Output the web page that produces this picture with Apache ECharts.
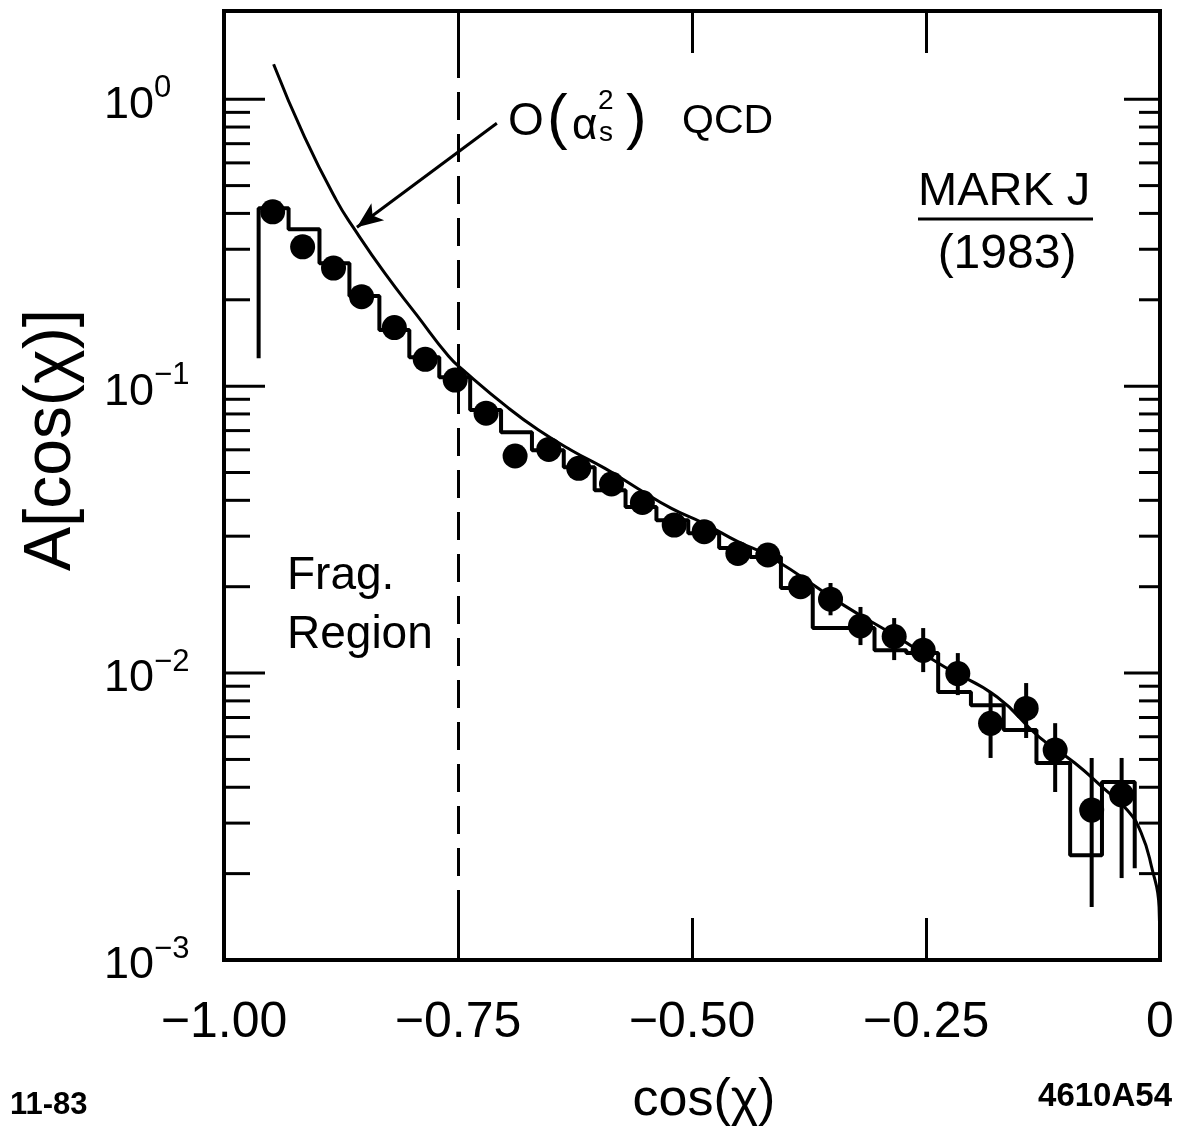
<!DOCTYPE html>
<html>
<head>
<meta charset="UTF-8">
<title>A[cos(χ)] - MARK J (1983)</title>
<script src="https://cdn.jsdelivr.net/npm/echarts@6/dist/echarts.min.js"></script>
<style>
  html, body { margin: 0; padding: 0; background: #fff; }
  #main { width: 1182px; height: 1127px; }
</style>
</head>
<body>
<div id="main"></div>
<script type="text/javascript">
var FONT = '"Liberation Sans", Arial, sans-serif';

// data points (cos chi, A)
var pointX = [-0.948, -0.916, -0.883, -0.853, -0.818, -0.785, -0.753, -0.720, -0.689, -0.653,
              -0.621, -0.586, -0.553, -0.519, -0.487, -0.451, -0.419, -0.384, -0.352, -0.320,
              -0.284, -0.253, -0.216, -0.181, -0.143, -0.112, -0.073, -0.041];
var pointY = [0.405, 0.306, 0.258, 0.205, 0.160, 0.124, 0.105, 0.0805, 0.0571, 0.0602,
              0.0517, 0.0456, 0.0393, 0.0328, 0.0311, 0.0261, 0.0258, 0.0200, 0.0181, 0.0146,
              0.0134, 0.0120, 0.00996, 0.00668, 0.00753, 0.00539, 0.00333, 0.00376];
// error bars (null = hidden behind the dot)
var errLow  = [null, null, null, null, null, null, null, null, null, null,
               null, null, null, null, null, null, null, null, 0.0159, 0.01252,
               0.0111, 0.01008, 0.00838, 0.00506, 0.00594, 0.00385, 0.00153, 0.00193];
var errHigh = [null, null, null, null, null, null, null, null, null, null,
               null, null, null, null, null, null, null, null, 0.0206, 0.0170,
               0.01555, 0.01435, 0.01174, 0.00852, 0.00923, 0.00669, 0.00506, 0.00506];

// Monte Carlo histogram
var mcEdges = [-0.963, -0.931, -0.898, -0.866, -0.834, -0.802, -0.770, -0.737, -0.704, -0.671,
               -0.637, -0.604, -0.571, -0.538, -0.504, -0.471, -0.438, -0.405, -0.371, -0.338,
               -0.305, -0.271, -0.237, -0.202, -0.167, -0.132, -0.096, -0.062, -0.027];
var mcLevels = [0.417, 0.352, 0.268, 0.206, 0.157, 0.126, 0.1075, 0.0825, 0.0691, 0.0598,
                0.0522, 0.0434, 0.0379, 0.0341, 0.0307, 0.0273, 0.0254, 0.0198, 0.01435, 0.01435,
                0.0120, 0.01174, 0.00859, 0.00773, 0.00633, 0.00486, 0.00232, 0.00417];
var mcStartY = 0.125;
var mcEndY = 0.00209;

// O(alpha_s^2) QCD curve
var qcdX = [-0.947, -0.914, -0.880, -0.861, -0.828, -0.794, -0.760, -0.742, -0.696, -0.664,
            -0.629, -0.593, -0.558, -0.522, -0.487, -0.451, -0.416, -0.338, -0.284, -0.230,
            -0.174, -0.129, -0.091, -0.062, -0.035, -0.020, -0.009, -0.001, 0.0];
var qcdY = [1.324, 0.739, 0.445, 0.354, 0.247, 0.1768, 0.1272, 0.1119, 0.0838, 0.0703,
            0.0598, 0.0517, 0.0440, 0.0375, 0.0332, 0.0287, 0.0254, 0.01725, 0.01356, 0.0105,
            0.00825, 0.00598, 0.00486, 0.00401, 0.00333, 0.00277, 0.00211, 0.00153, 0.00102];

// axes
var xMin = -1, xMax = 0, xStep = 0.25;
var yMin = 0.001, yMax = 2.03;
var yMajorTicks = [0.001, 0.01, 0.1, 1];
var yMinorTicks = [0.002, 0.003, 0.004, 0.005, 0.006, 0.007, 0.008, 0.009,
                   0.02, 0.03, 0.04, 0.05, 0.06, 0.07, 0.08, 0.09,
                   0.2, 0.3, 0.4, 0.5, 0.6, 0.7, 0.8, 0.9];
var fragCut = -0.75;
var arrowFrom = [-0.7085, 0.825];
var arrowTo = [-0.858, 0.358];

var points = pointX.map(function (x, i) { return [x, pointY[i]]; });
var errBars = [];
pointX.forEach(function (x, i) {
  if (errLow[i] != null) errBars.push([x, errLow[i], errHigh[i]]);
});
var mcLine = [[mcEdges[0], mcStartY]];
mcLevels.forEach(function (v, i) {
  mcLine.push([mcEdges[i], v]);
  mcLine.push([mcEdges[i + 1], v]);
});
mcLine.push([mcEdges[mcEdges.length - 1], mcEndY]);
var qcd = qcdX.map(function (x, i) { return [x, qcdY[i]]; });
var yTicks = [];
yMajorTicks.forEach(function (v) { yTicks.push([xMin, v, 41]); });
yMinorTicks.forEach(function (v) { yTicks.push([xMin, v, 26]); });

var myChart = echarts.init(document.getElementById('main'));

var xAxisBase = {
  type: 'value', min: xMin, max: xMax, interval: xStep,
  axisLine: { show: false },
  splitLine: { show: false },
  axisTick: { show: true, inside: true, length: 42, lineStyle: { color: '#000', width: 3 } }
};

function txt(text, x, y, size, align, extra) {
  return {
    type: 'text',
    style: Object.assign({
      text: text, x: x, y: y, font: size + 'px ' + FONT, fill: '#000',
      align: align, verticalAlign: 'middle', textAlign: align, textVerticalAlign: 'middle'
    }, extra || {})
  };
}

myChart.setOption({
  animation: false,
  backgroundColor: '#fff',
  textStyle: { fontFamily: FONT, color: '#000' },
  grid: {
    left: 224, right: 22, top: 11, bottom: 167,
    show: true, borderColor: '#000', borderWidth: 4, backgroundColor: 'transparent'
  },
  xAxis: [
    Object.assign({}, xAxisBase, {
      position: 'bottom',
      axisLabel: {
        margin: 38, fontSize: 50, color: '#000', fontFamily: FONT,
        formatter: function (v) { return v === 0 ? '0' : '\u2212' + Math.abs(v).toFixed(2); }
      }
    }),
    Object.assign({}, xAxisBase, { position: 'top', axisLabel: { show: false } })
  ],
  yAxis: {
    type: 'log', logBase: 10, min: yMin, max: yMax,
    axisLine: { show: false },
    axisTick: { show: false },
    splitLine: { show: false },
    axisLabel: {
      margin: 120, align: 'left', color: '#000', padding: [12, 0, 0, 0],
      formatter: function (v) {
        var l = Math.log10(v), e = Math.round(l);
        if (Math.abs(l - e) > 1e-6) return '';
        return '{b|10}{s|' + (e < 0 ? '\u2212' + (-e) : e) + '}';
      },
      rich: {
        b: { fontSize: 45, lineHeight: 64, fontFamily: FONT, color: '#000' },
        s: { fontSize: 31, lineHeight: 20, verticalAlign: 'top', fontFamily: FONT, color: '#000' }
      }
    }
  },
  series: [
    {
      // minor and major ticks on left and right frame
      type: 'custom', silent: true, z: 2,
      encode: { x: 0, y: 1 },
      data: yTicks,
      renderItem: function (params, api) {
        var v = api.value(1), len = api.value(2);
        var l = api.coord([xMin, v]), r = api.coord([xMax, v]);
        return {
          type: 'group',
          children: [
            { type: 'line', shape: { x1: l[0], y1: l[1], x2: l[0] + len, y2: l[1] },
              style: { stroke: '#000', lineWidth: 3 } },
            { type: 'line', shape: { x1: r[0] - len + 5, y1: r[1], x2: r[0], y2: r[1] },
              style: { stroke: '#000', lineWidth: 3 } }
          ]
        };
      }
    },
    {
      name: 'MC', type: 'line', data: mcLine, z: 3,
      symbol: 'none', lineStyle: { color: '#000', width: 4 }, itemStyle: { color: '#000' }
    },
    {
      name: 'QCD', type: 'line', data: qcd, z: 3, smooth: 0.5,
      symbol: 'none', lineStyle: { color: '#000', width: 3 }, itemStyle: { color: '#000' },
      markLine: {
        silent: true, animation: false,
        symbol: ['none', 'arrow'], symbolSize: [16, 26],
        label: { show: false },
        lineStyle: { color: '#000', width: 3, type: 'solid' },
        data: [[{ coord: arrowFrom }, { coord: arrowTo }]]
      }
    },
    {
      name: 'err', type: 'custom', z: 4, silent: true,
      encode: { x: 0, y: [1, 2] },
      data: errBars,
      renderItem: function (params, api) {
        var lo = api.coord([api.value(0), api.value(1)]);
        var hi = api.coord([api.value(0), api.value(2)]);
        return { type: 'line', shape: { x1: lo[0], y1: lo[1], x2: hi[0], y2: hi[1] },
                 style: { stroke: '#000', lineWidth: 4 } };
      }
    },
    {
      name: 'data', type: 'scatter', data: points, z: 5,
      symbol: 'circle', symbolSize: 25, itemStyle: { color: '#000', opacity: 1 },
      markLine: {
        silent: true, animation: false, symbol: ['none', 'none'],
        label: { show: false },
        lineStyle: { color: '#000', width: 3, type: [28, 14] },
        data: [{ xAxis: fragCut }]
      }
    }
  ],
  graphic: [
    { type: 'text', x: 52, y: 440, rotation: Math.PI / 2,
      style: { text: 'A[cos(\u03c7)]', x: 0, y: 0, font: '66px ' + FONT, fill: '#000',
               align: 'center', verticalAlign: 'middle', textAlign: 'center', textVerticalAlign: 'middle' } },
    txt('cos(\u03c7)', 704, 1101, 52, 'center'),
    txt('11-83', 10, 1105, 'bold 31', 'left'),
    txt('4610A54', 1172, 1097, 'bold 33', 'right'),
    // MARK J (1983)
    txt('MARK J', 918, 192, 47, 'left'),
    { type: 'line', shape: { x1: 918, y1: 219, x2: 1093, y2: 219 }, style: { stroke: '#000', lineWidth: 3 } },
    txt('(1983)', 1007, 255, 48, 'center'),
    // Frag. Region
    txt('Frag.', 287, 576, 46, 'left'),
    txt('Region', 287, 635, 46, 'left'),
    // O(alpha_s^2) QCD
    txt('O', 508, 122, 46, 'left'),
    txt('(', 547, 120, 62, 'left'),
    txt('\u03b1', 572, 127, 44, 'left'),
    txt('2', 598, 101, 28, 'left'),
    txt('s', 599, 133, 28, 'left'),
    txt(')', 626, 120, 62, 'left'),
    txt('QCD', 682, 122, 41, 'left')
  ]
});
</script>
</body>
</html>
